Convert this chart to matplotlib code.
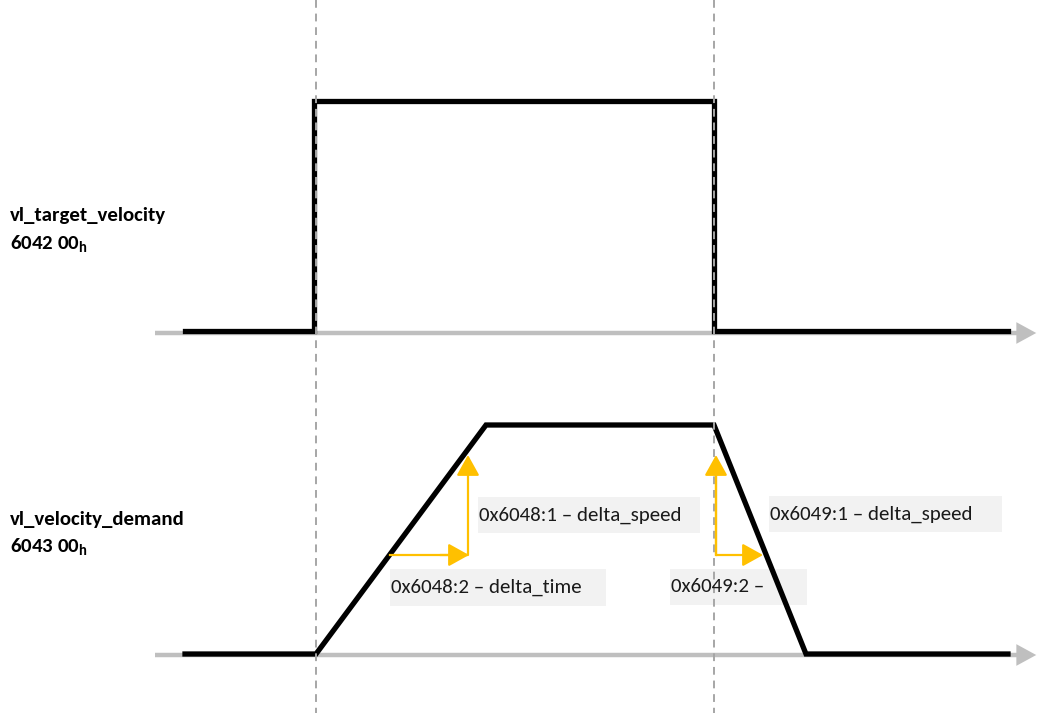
import matplotlib
matplotlib.use("Agg")
import matplotlib.pyplot as plt
from matplotlib.patches import FancyArrowPatch

W, H = 1039, 713

# Signal shapes (time axis in px-like units, level in px)
target_t = [185, 314, 314, 714, 714, 1008]
target_v = [331, 331, 101, 101, 331, 331]
demand_t = [185, 316, 486, 714, 806, 1008]
demand_v = [654, 654, 425, 425, 654, 654]
axis_y = [333, 655]
axis_x0, axis_x1 = 155, 1039
event_t = [316, 714]

left_labels = [("vl_target_velocity", "6042 00$_{\\mathregular{h}}$", 216, 244),
               ("vl_velocity_demand", "6043 00$_{\\mathregular{h}}$", 519, 547)]
notes = ["0x6048:1 – delta_speed", "0x6048:2 – delta_time",
         "0x6049:1 – delta_speed", "0x6049:2 – "]

FONT = ["Carlito", "Lato", "DejaVu Sans"]
plt.rcParams['font.family'] = FONT
plt.rcParams['mathtext.fontset'] = 'custom'
plt.rcParams['mathtext.rm'] = 'Lato:bold'

fig = plt.figure(figsize=(W / 100, H / 100), dpi=100)
ax = fig.add_axes([0, 0, 1, 1])
ax.set_xlim(0, W)
ax.set_ylim(H, 0)
ax.axis("off")

grey = "#bfbfbf"
orange = "#ffc000"

# axes with arrowheads
for y in axis_y:
    ax.plot([axis_x0, axis_x1 - 12], [y, y], color=grey, lw=3.2, solid_capstyle="butt", zorder=1)
    ax.add_patch(FancyArrowPatch((axis_x1 - 16, y), (axis_x1, y), arrowstyle="-|>,head_length=1.1,head_width=0.6",
                                 mutation_scale=13, color=grey, lw=0, zorder=1))

# signals
ax.plot(target_t, target_v, color="black", lw=3.8, solid_joinstyle="miter", zorder=3)
ax.plot(demand_t, demand_v, color="black", lw=3.8, solid_joinstyle="miter", zorder=3)

# dashed event lines
for x in event_t:
    ax.plot([x, x], [0, H], color="#a6a6a6", lw=1.4, ls=(0, (4, 3)), zorder=4)

# orange arrows
def arrow(p0, p1):
    ax.add_patch(FancyArrowPatch(p0, p1, arrowstyle="-|>,head_length=0.9,head_width=0.5",
                                 mutation_scale=14, color=orange, lw=1.6, shrinkA=0, shrinkB=0, zorder=5))

ax.plot([390, 467], [555, 555], color=orange, lw=1.6, zorder=5)
arrow((440, 555), (469, 555))
arrow((468, 555), (468, 455))
ax.plot([716, 716], [555, 470], color=orange, lw=1.6, zorder=5)
arrow((716, 555), (716, 455))
arrow((716, 555), (763, 555))

# note boxes
boxes = [(478, 497, 222, 36), (390, 569, 216, 37), (769, 496, 233, 36), (670, 569, 137, 36)]
for (x, y, w, h), txt in zip(boxes, notes):
    ax.add_patch(plt.Rectangle((x, y), w, h, facecolor="#f2f2f2", edgecolor="none", zorder=2))
    ax.text(x + 1, y + h / 2, txt, fontsize=15, va="center", ha="left", color="#1a1a1a", zorder=6)

# left labels
for name, idx, y1, y2 in left_labels:
    ax.text(10, y1, name, fontsize=15, fontweight="bold", va="center", ha="left", color="black")
    ax.text(10, y2, idx, fontsize=15, fontweight="bold", va="center", ha="left", color="black")

fig.savefig("out.png", dpi=100)
